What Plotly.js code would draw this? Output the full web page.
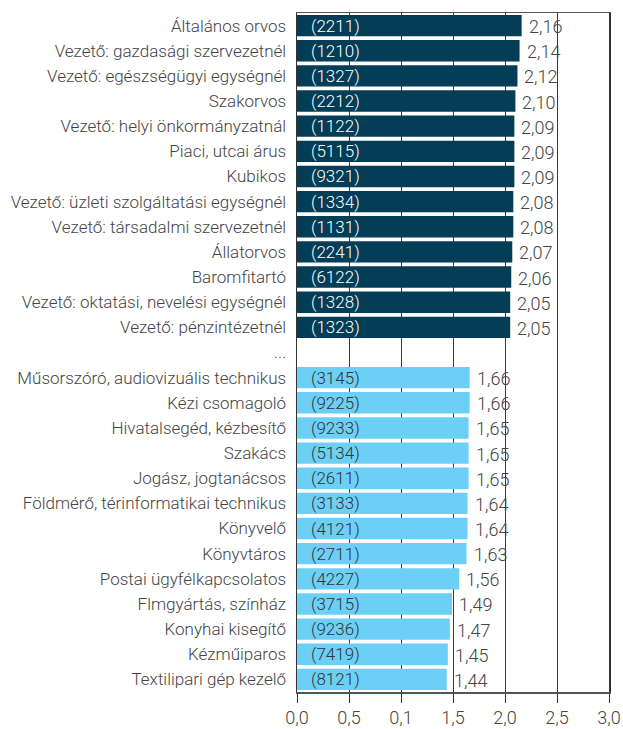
<!DOCTYPE html>
<html><head><meta charset="utf-8">
<script src="https://cdn.plot.ly/plotly-3.0.1.min.js"></script>
<style>body{margin:0;background:#fff}#chart{width:623px;height:729px}</style>
</head><body><div id="chart"></div>
<script>
const topCategories = ["Általános orvos","Vezető: gazdasági szervezetnél","Vezető: egészségügyi egységnél","Szakorvos","Vezető: helyi önkormányzatnál","Piaci, utcai árus","Kubikos","Vezető: üzleti szolgáltatási egységnél","Vezető: társadalmi szervezetnél","Állatorvos","Baromfitartó","Vezető: oktatási, nevelési egységnél","Vezető: pénzintézetnél"];
const topValues = [2.16,2.14,2.12,2.10,2.09,2.09,2.09,2.08,2.08,2.07,2.06,2.05,2.05];
const topCodes = ["2211","1210","1327","2212","1122","5115","9321","1334","1131","2241","6122","1328","1323"];
const gapLabel = "...";
const bottomCategories = ["Műsorszóró, audiovizuális technikus","Kézi csomagoló","Hivatalsegéd, kézbesítő","Szakács","Jogász, jogtanácsos","Földmérő, térinformatikai technikus","Könyvelő","Könyvtáros","Postai ügyfélkapcsolatos","Flmgyártás, színház","Konyhai kisegítő","Kézműiparos","Textilipari gép kezelő"];
const bottomValues = [1.66,1.66,1.65,1.65,1.65,1.64,1.64,1.63,1.56,1.49,1.47,1.45,1.44];
const bottomCodes = ["3145","9225","9233","5134","2611","3133","4121","2711","4227","3715","9236","7419","8121"];
const xTickVals = [0,0.5,1,1.5,2,2.5,3];
const xTickText = ["0,0","0,5","0,1","1,5","2,0","2,5","3,0"];

const allCats = topCategories.concat([gapLabel], bottomCategories);
const fmt = v => v.toFixed(2).replace(".", ",");
const FONT = "Roboto";

const barTrace = (cats, vals, color) => ({
  type: "bar", orientation: "h", y: cats, x: vals,
  marker: {color: color, line: {width: 0}},
  hoverinfo: "skip", showlegend: false
});

const data = [
  barTrace(topCategories, topValues, "#033d56"),
  barTrace(bottomCategories, bottomValues, "#6ccff6")
];

const annotations = [];
const addAnn = (cats, vals, codes, codeColor) => {
  cats.forEach((c, i) => {
    annotations.push({x: 0, y: c, xref: "x", yref: "y", text: "(" + codes[i] + ")",
      showarrow: false, xanchor: "left", yanchor: "middle", xshift: 12,
      font: {family: FONT, size: 17, color: codeColor, weight: 300}});
    annotations.push({x: vals[i], y: c, xref: "x", yref: "y", text: fmt(vals[i]),
      showarrow: false, xanchor: "left", yanchor: "middle", xshift: 5, yshift: -1,
      font: {family: FONT, size: 18, color: "#444", weight: 300}});
  });
};
addAnn(topCategories, topValues, topCodes, "#ffffff");
addAnn(bottomCategories, bottomValues, bottomCodes, "#333333");

const layout = {
  width: 623, height: 729,
  margin: {l: 297, r: 14, t: 13, b: 37},
  paper_bgcolor: "#fff", plot_bgcolor: "#fff",
  font: {family: FONT, size: 17, color: "#444", weight: 300},
  barmode: "overlay", bargap: 0.15,
  annotations: annotations,
  xaxis: {
    range: [0, 3], tickvals: xTickVals, ticktext: xTickText,
    showgrid: true, gridcolor: "#3a3a3a", gridwidth: 1,
    showline: true, linecolor: "#555", linewidth: 1.5, mirror: true,
    ticks: "outside", ticklen: 9, tickcolor: "#333", tickwidth: 1,
    tickfont: {family: FONT, size: 18, color: "#444", weight: 300},
    zeroline: false, fixedrange: true
  },
  yaxis: {
    type: "category", categoryorder: "array", categoryarray: allCats,
    tickvals: allCats, ticktext: allCats,
    range: [allCats.length - 0.5, -0.5],
    showline: true, linecolor: "#333", linewidth: 1.5, mirror: true,
    ticks: "", ticklabelstandoff: 6,
    tickfont: {family: FONT, size: 17, color: "#444", weight: 300},
    showgrid: false, fixedrange: true
  }
};
Plotly.newPlot("chart", data, layout, {displayModeBar: false, staticPlot: true});
</script></body></html>
